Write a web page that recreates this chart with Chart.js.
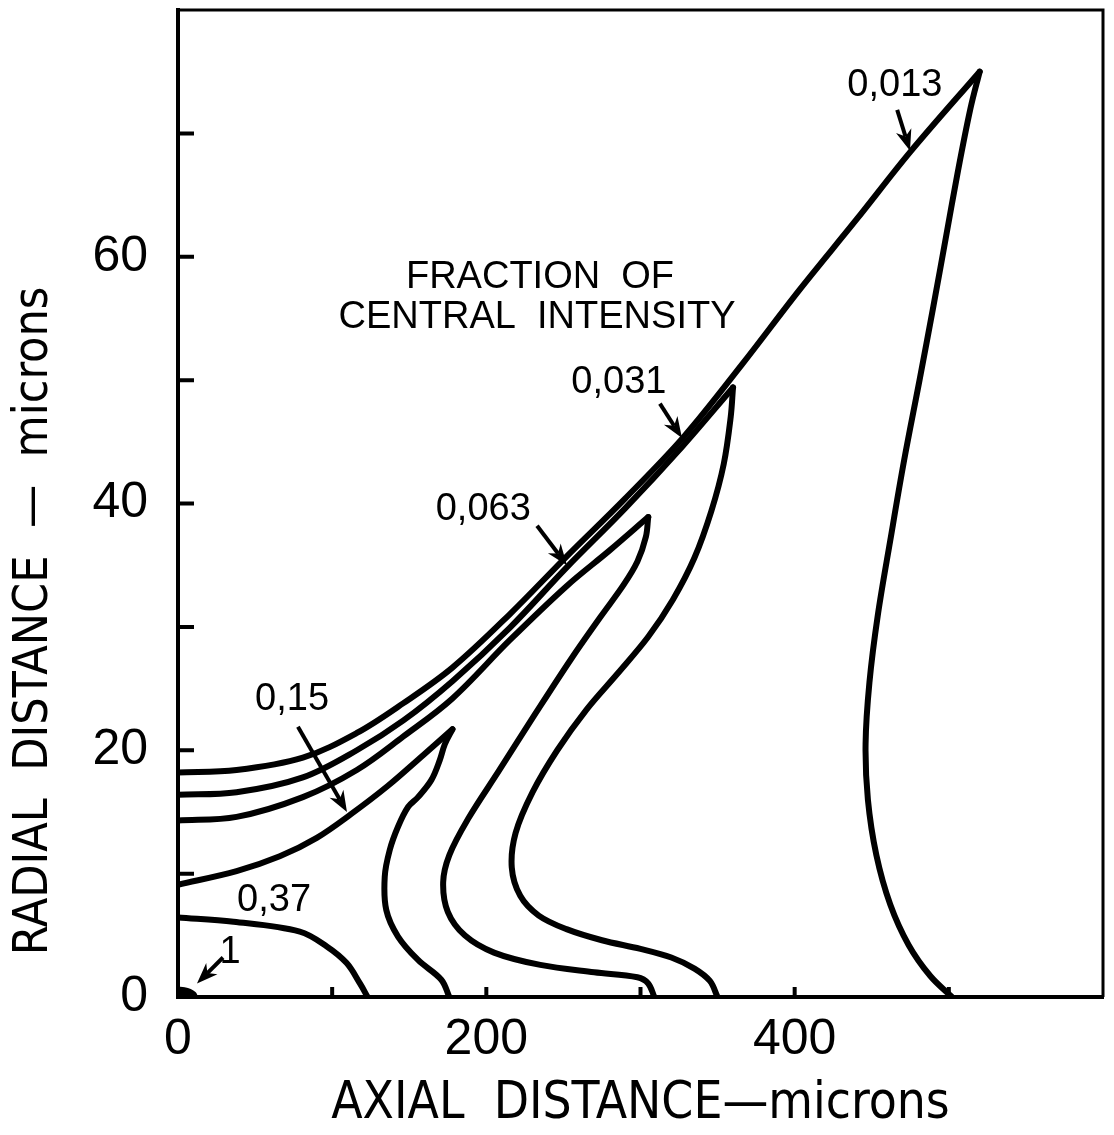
<!DOCTYPE html>
<html>
<head>
<meta charset="utf-8">
<script src="https://cdn.jsdelivr.net/npm/chart.js@4.4.1/dist/chart.umd.min.js"></script>
<style>
    html, body { margin: 0; padding: 0; background: #ffffff; }
    #wrap { width: 1114px; height: 1135px; }
</style>
</head>
<body>
<div id="wrap"><canvas id="contourChart"></canvas></div>
<script>
// Iso-intensity contours, fraction of central intensity.
// Each outline is [axial, radial] in microns, split at the tip so the cusp stays sharp.
const levels = [1, 0.37, 0.15, 0.063, 0.031, 0.013];

const c1 = [[0, 0.6], [4, 0.55], [7.5, 0.42], [10, 0.22], [11, 0]];

const c37 = [[0, 6.45], [36, 6.1], [79, 5.3], [96.5, 4.1], [109.4, 2.75], [118, 1.1], [123, 0]];

const c15Upper = [[0, 9.1], [38, 10.2], [66, 11.4], [90, 12.9], [112, 14.8], [136, 17.1], [159, 19.6], [178, 21.7]];
const c15Lower = [[178, 21.7], [173.1, 20.5], [169.8, 19.2], [164.4, 17.6], [155.7, 16.2], [149.2, 15.4], [142.7, 13.8], [137.3, 11.9], [134.1, 9.75], [135.1, 7.05], [142.7, 4.9], [155.7, 3.0], [170.8, 1.4], [176, 0]];

const c063Upper = [[0, 14.3], [38, 14.6], [81, 16.2], [116, 18.4], [146, 21.1], [178, 24.2], [215, 28.9], [252, 33.3], [280, 36.2], [305, 38.9]];
const c063Lower = [[305, 38.9], [303.5, 37.3], [298, 35.3], [289, 33.4], [274, 30.8], [255, 27.4], [232, 23.0], [208, 18.3], [188, 14.4], [176, 11.5], [172, 9.3], [175, 6.9], [186, 5.0], [205, 3.6], [235, 2.6], [270, 2.0], [298, 1.6], [305, 1.1], [309, 0]];

const c031Upper = [[0, 16.4], [38, 16.6], [81, 17.8], [116, 20.0], [146, 22.4], [178, 25.6], [215, 29.9], [252, 34.8], [290, 39.6], [327, 44.6], [360, 49.4]];
const c031Lower = [[360, 49.4], [358.5, 47.0], [354, 43.2], [346, 39.4], [335, 35.6], [321, 32.2], [305, 29.2], [285, 26.2], [265, 23.3], [246, 20.0], [230, 16.6], [219, 13.3], [216.5, 10.5], [222, 8.2], [234, 6.6], [252, 5.5], [275, 4.6], [300, 3.9], [320, 3.2], [335, 2.3], [345, 1.3], [350, 0]];

const c013Upper = [[0, 18.2], [38, 18.4], [81, 19.4], [116, 21.4], [146, 23.8], [178, 26.7], [215, 31.0], [252, 35.7], [290, 40.4], [328, 45.4], [366, 51.3], [403, 57.3], [440, 63.0], [475, 68.5], [520, 75.0]];
const c013Lower = [[520, 75.0], [514, 72], [506, 67], [498, 61.5], [490, 56], [481, 50], [471, 43.5], [462, 37], [454, 31], [448.5, 25.5], [446, 20.5], [447.5, 16], [453, 11.5], [462, 7.5], [474, 4.2], [488, 1.7], [502, 0]];

// axis ticks (every step gets a tick mark, only these get a number)
const xLabelled = [0, 200, 400];
const yLabelled = [0, 20, 40, 60];

const FONT_TEXT = "'Liberation Sans', 'DejaVu Sans', sans-serif";
const FONT_NARROW = "'Liberation Sans Narrow', 'DejaVu Sans Condensed', 'Liberation Sans', sans-serif";

function levelLabel(v) {
    return String(v).replace('.', ',');
}

// label anchors and arrows, in axis units
const notes = [
    { level: 0.013, at: [465, 73.9], from: [466.5, 71.9], to: [474.8, 68.6] },
    { level: 0.031, at: [286, 49.8], from: [312.6, 48.1], to: [326.9, 45.3] },
    { level: 0.063, at: [198, 39.5], from: [232.9, 38.2], to: [252.3, 35.0] },
    { level: 0.15, at: [74, 24.1], from: [77.8, 21.9], to: [109.6, 15.0] },
    { level: 0.37, at: [62.3, 7.8] },
    { level: 1, at: [33.7, 3.6], from: [29.2, 3.2], to: [12.3, 1.1] }
];
const heading = { lines: ['FRACTION  OF', 'CENTRAL  INTENSITY'], at: [[234.8, 58.3], [232.9, 55.1]] };

function line(points) {
    return {
        data: points.map(p => ({ x: p[0], y: p[1] })),
        showLine: true,
        borderColor: '#000',
        backgroundColor: '#000',
        borderWidth: 6,
        borderCapStyle: 'round',
        borderJoinStyle: 'round',
        pointRadius: 0,
        tension: 0.35,
        fill: false
    };
}

const datasets = [c1, c37, c15Upper, c15Lower, c063Upper, c063Lower, c031Upper, c031Lower, c013Upper, c013Lower].map(line);
// the central level is only a small blob at the origin
datasets[0].fill = 'origin';

function arrow(ctx, x1, y1, x2, y2) {
    const a = Math.atan2(y2 - y1, x2 - x1);
    const head = 21, half = 8;
    ctx.beginPath();
    ctx.moveTo(x1, y1);
    ctx.lineTo(x2 - Math.cos(a) * head * 0.7, y2 - Math.sin(a) * head * 0.7);
    ctx.stroke();
    ctx.beginPath();
    ctx.moveTo(x2, y2);
    ctx.lineTo(x2 - Math.cos(a) * head - Math.sin(a) * half, y2 - Math.sin(a) * head + Math.cos(a) * half);
    ctx.lineTo(x2 - Math.cos(a) * head * 0.7, y2 - Math.sin(a) * head * 0.7);
    ctx.lineTo(x2 - Math.cos(a) * head + Math.sin(a) * half, y2 - Math.sin(a) * head - Math.cos(a) * half);
    ctx.closePath();
    ctx.fill();
}

const decorations = {
    id: 'decorations',
    beforeDraw(chart) {
        const ctx = chart.ctx;
        ctx.save();
        ctx.fillStyle = '#fff';
        ctx.fillRect(0, 0, chart.width, chart.height);
        ctx.restore();
    },
    afterDraw(chart) {
        const { ctx, chartArea: area, scales: { x, y } } = chart;
        ctx.save();
        ctx.strokeStyle = '#000';
        ctx.fillStyle = '#000';

        // top and right edges of the frame
        ctx.lineWidth = 3;
        ctx.beginPath();
        ctx.moveTo(area.left, area.top);
        ctx.lineTo(area.right, area.top);
        ctx.lineTo(area.right, area.bottom);
        ctx.stroke();

        // inward tick marks on both axes
        ctx.lineWidth = 4;
        ctx.beginPath();
        y.ticks.forEach(t => {
            if (t.value <= y.min || t.value >= y.max) return;
            const py = y.getPixelForValue(t.value);
            ctx.moveTo(area.left, py);
            ctx.lineTo(area.left + 16, py);
        });
        x.ticks.forEach(t => {
            if (t.value <= x.min || t.value >= x.max) return;
            const px = x.getPixelForValue(t.value);
            ctx.moveTo(px, area.bottom);
            ctx.lineTo(px, area.bottom - 10);
        });
        ctx.stroke();

        // contour labels with their arrows
        ctx.font = '38px ' + FONT_TEXT;
        ctx.textAlign = 'center';
        ctx.textBaseline = 'middle';
        notes.forEach(n => {
            ctx.fillText(levelLabel(n.level), x.getPixelForValue(n.at[0]), y.getPixelForValue(n.at[1]));
            if (n.from) {
                ctx.lineWidth = 4;
                arrow(ctx, x.getPixelForValue(n.from[0]), y.getPixelForValue(n.from[1]),
                      x.getPixelForValue(n.to[0]), y.getPixelForValue(n.to[1]));
            }
        });
        heading.lines.forEach((t, i) => {
            ctx.fillText(t, x.getPixelForValue(heading.at[i][0]), y.getPixelForValue(heading.at[i][1]));
        });

        // radial axis title
        ctx.font = '48px ' + FONT_NARROW;
        ctx.translate(35, 621);
        ctx.rotate(-Math.PI / 2);
        ctx.fillText('RADIAL  DISTANCE  —  microns', 0, 0);
        ctx.restore();
    }
};

function noPadding(scale) {
    scale.paddingTop = 0;
    scale.paddingBottom = 0;
    scale.paddingLeft = 0;
    scale.paddingRight = 0;
}

new Chart(document.getElementById('contourChart'), {
    type: 'scatter',
    data: { datasets: datasets },
    options: {
        responsive: true,
        maintainAspectRatio: false,
        animation: false,
        layout: { padding: { top: 10, right: 11, left: 0, bottom: 0 } },
        plugins: {
            legend: { display: false },
            tooltip: { enabled: false }
        },
        scales: {
            x: {
                type: 'linear',
                min: 0,
                max: 600,
                afterFit(scale) { scale.height = 138; noPadding(scale); },
                border: { display: true, color: '#000', width: 4 },
                grid: { drawOnChartArea: false, drawTicks: false },
                ticks: {
                    stepSize: 100,
                    autoSkip: false,
                    maxRotation: 0,
                    padding: 13,
                    color: '#000',
                    font: { family: FONT_TEXT, size: 50 },
                    callback: v => xLabelled.includes(v) ? String(v) : ''
                },
                title: {
                    display: true,
                    text: 'AXIAL  DISTANCE—microns',
                    color: '#000',
                    font: { family: FONT_NARROW, size: 51 },
                    padding: { top: 0, bottom: 0 }
                }
            },
            y: {
                type: 'linear',
                min: 0,
                max: 80,
                afterFit(scale) { scale.width = 178; noPadding(scale); },
                border: { display: true, color: '#000', width: 4 },
                grid: { drawOnChartArea: false, drawTicks: false },
                ticks: {
                    stepSize: 10,
                    autoSkip: false,
                    padding: 30,
                    color: '#000',
                    font: { family: FONT_TEXT, size: 50 },
                    callback: v => yLabelled.includes(v) ? String(v) : ''
                }
            }
        }
    },
    plugins: [decorations]
});
</script>
</body>
</html>
